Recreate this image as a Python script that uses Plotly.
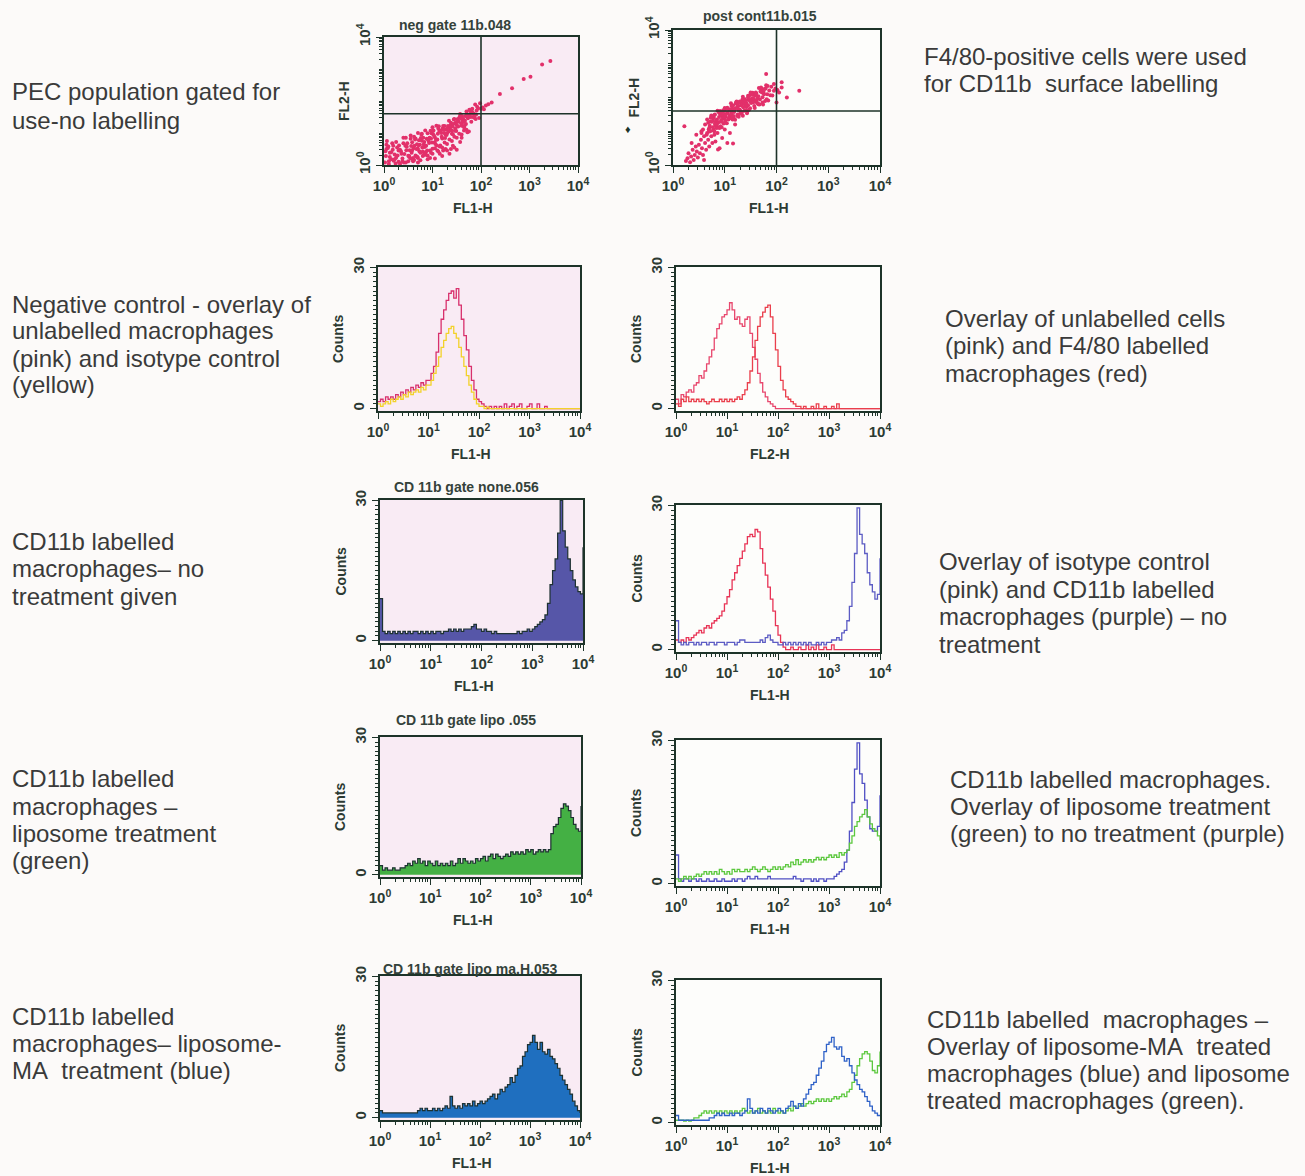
import plotly.graph_objects as go

W, H = 1305, 1176
AX = "#1d3329"
TXT = "#2c3a33"
SIDE = "#3a3a3a"
LABF = "Liberation Sans, Arial, Helvetica, sans-serif"
SANS = "Liberation Sans, Arial, Helvetica, sans-serif"
PAPER = "#fcfaf9"
LEFT_BG = "#f9ebf4"
RIGHT_BG = "#fdfdfb"

# ---------------------------------------------------------------- data
# histogram channels, in decades (10^0 .. 10^4)
CHANNELS = [
    0.00, 0.05, 0.10, 0.15, 0.20, 0.25, 0.30, 0.35, 0.40, 0.45,
    0.50, 0.55, 0.60, 0.65, 0.70, 0.75, 0.80, 0.85, 0.90, 0.95,
    1.00, 1.05, 1.10, 1.15, 1.20, 1.25, 1.30, 1.35, 1.40, 1.45,
    1.50, 1.55, 1.60, 1.65, 1.70, 1.75, 1.80, 1.85, 1.90, 1.95,
    2.00, 2.05, 2.10, 2.15, 2.20, 2.25, 2.30, 2.35, 2.40, 2.45,
    2.50, 2.55, 2.60, 2.65, 2.70, 2.75, 2.80, 2.85, 2.90, 2.95,
    3.00, 3.05, 3.10, 3.15, 3.20, 3.25, 3.30, 3.35, 3.40, 3.45,
    3.50, 3.55, 3.60, 3.65, 3.70, 3.75, 3.80, 3.85, 3.90, 3.95,
    4.00,
]

# row 2 left: unlabelled macrophages (pink) and isotype control (yellow)
NEG_UNLAB = [
    1.5, 2, 1.5, 2.5, 2, 2.5, 2, 3, 2.5, 3.5,
    3, 4, 3.5, 4.5, 4, 5, 4.5, 5.5, 5, 6,
    6, 7.5, 9, 12, 16, 19, 21, 23, 24.5, 25,
    23.5, 25.5, 22, 19, 15.5, 12.5, 9, 6, 4, 2,
    1.5, 1, 0.5, 0, 0.5, 0, 0.5, 0, 0.5, 0,
    1, 0, 0.5, 1, 0, 0.5, 1, 0, 0, 0.5,
    1, 0, 0, 1, 0, 0, 0.5, 0, 0, 0,
    0, 0, 0, 0, 0, 0, 0, 0, 0, 0,
    0,
]
NEG_ISO = [
    1, 0.5, 1, 1.5, 1, 2, 1.5, 2, 2.5, 2,
    3, 2.5, 3.5, 3, 3.5, 4, 3.5, 4.5, 4, 5,
    5, 6, 7.5, 9, 11, 13, 14.5, 16, 17, 17.5,
    16, 15, 13, 11, 9, 7, 5, 3.5, 2, 1,
    0.5, 0.5, 0, 0.3, 0, 0, 0, 0, 0, 0,
    0, 0, 0, 0, 0, 0, 0, 0, 0, 0,
    0, 0, 0, 0, 0, 0, 0, 0, 0, 0,
    0, 0, 0, 0, 0, 0, 0, 0, 0, 0,
    0,
]
# row 2 right: unlabelled cells (pink) and F4/80 labelled macrophages (red)
F480_UNLAB = [
    2, 1, 3, 2.5, 3.5, 4, 3.5, 5, 5.5, 7,
    6.5, 8, 9.5, 11, 12.5, 15, 17, 18, 19.5, 20,
    21, 22.5, 21, 19, 19.5, 18, 17.5, 19, 19.5, 16,
    13, 10.5, 7.5, 5.5, 3.5, 2.5, 1.5, 1, 0.5, 0,
    0, 0, 0, 0, 0, 0, 0, 0, 0, 0,
    0, 0, 0, 0, 0, 0, 0, 0, 0, 0,
    0, 0, 0, 0, 0, 0, 0, 0, 0, 0,
    0, 0, 0, 0, 0, 0, 0, 0, 0, 0,
    0,
]
F480_LAB = [
    1, 0.5, 2, 1.5, 2.5, 1.5, 2, 1.5, 2, 1.5,
    2, 1.5, 1, 1.5, 2, 1.5, 1.5, 2, 1.5, 2,
    1.5, 2, 1.5, 2, 2.5, 2, 3, 4, 5.5, 8,
    11, 14.5, 17.5, 19.5, 20.5, 21.5, 22, 19.5, 16, 12.5,
    9, 6, 4, 2.5, 2, 1.5, 1, 0.5, 0.5, 0,
    0.5, 0, 0, 0.5, 0, 1, 0, 0, 0.5, 0,
    0, 0.5, 0, 1, 0, 0, 0, 0, 0, 0,
    0, 0, 0, 0, 0, 0, 0, 0, 0, 0,
    0,
]
# row 3: CD11b labelled, no treatment (purple); isotype control (pink)
CD11B_NONE = [
    9, 2, 1.5, 2, 1.5, 2, 1.5, 2, 1.5, 2,
    1.5, 2, 1.5, 2, 2, 1.5, 2, 1.5, 2, 1.5,
    2, 1.5, 2, 2, 1.5, 2, 2, 2.5, 2, 2.5,
    2, 2.5, 2, 2.5, 2.5, 2.5, 3, 3.5, 2.5, 2.5,
    2, 2.5, 2, 2, 1.5, 2, 1.5, 1.5, 1.5, 1.5,
    1.5, 1.5, 1.5, 1.5, 2, 1.5, 2, 2, 2.5, 2,
    2.5, 3, 3.5, 4, 4.5, 5.5, 8, 12, 15, 17.5,
    23, 30, 23.5, 20, 17.5, 15, 13, 11.5, 10.5, 10,
    20,
]
ISO_CTRL = [
    2, 1.5, 2, 1.5, 2.5, 2, 2.5, 3, 3.5, 4,
    3.5, 4.5, 5, 4.5, 5.5, 6, 6.5, 7, 8, 9.5,
    11, 12.5, 14.5, 16, 17.5, 19, 20.5, 22, 23.5, 24,
    23.5, 25, 24.5, 21, 18, 15.5, 13, 10.5, 8, 5,
    3, 1.5, 0.5, 0, 0, 0.5, 0, 0, 0.5, 0,
    0, 1, 0, 0.5, 0, 1, 0, 0, 0.5, 0,
    0, 1, 0, 0, 0, 0, 0, 0, 0, 0,
    0, 0, 0, 0, 0, 0, 0, 0, 0, 0,
    0,
]
CD11B_NONE_OVL = [
    6, 1.5, 1, 1.5, 1, 1.5, 1.5, 1, 1.5, 1,
    1.5, 1.5, 1, 1.5, 1.5, 1, 1.5, 1.5, 1.5, 1,
    1.5, 1.5, 1.5, 1, 1.5, 2, 2, 1.5, 1.5, 1.5,
    1.5, 1.5, 1.5, 2, 1.5, 2.5, 3, 2, 1.5, 1.5,
    1, 1, 1.5, 1, 1.5, 1, 1.5, 1, 1.5, 1,
    1.5, 1, 1.5, 1, 1, 1.5, 1, 1.5, 1, 1.5,
    1.5, 2, 2, 2.5, 2, 3.5, 4, 6, 9, 14,
    20, 29.5, 24, 22, 20, 16, 13.5, 12, 10.5, 11.5,
    19,
]
# row 4: liposome treatment (green) vs no treatment (purple)
CD11B_LIPO = [
    2, 1, 1.5, 1, 1, 1.5, 1, 1, 1.5, 1.5,
    2, 2.5, 2, 3, 2.5, 3.5, 2.5, 3, 2, 3,
    2.5, 2, 3, 2, 2.5, 2, 2.5, 2, 3, 2,
    2.5, 3.5, 2.5, 3.5, 3, 2.5, 3, 2.5, 3.5, 3,
    3.5, 4, 3, 4, 4.5, 3.5, 4.5, 4, 3.5, 4,
    4.5, 4, 5, 4.5, 5, 4.5, 5, 4.5, 5.5, 5,
    5.5, 4.5, 5, 5.5, 5, 5.5, 5, 5.5, 9, 10.5,
    11, 12.5, 14.5, 15.5, 15, 14, 12.5, 11, 10, 9.5,
    15,
]
CD11B_NONE_OVL2 = [
    6, 1, 0.5, 1, 1, 0.5, 1, 1, 0.5, 1,
    0.5, 0.5, 1, 0.5, 0.5, 1, 0.5, 0.5, 1, 0.5,
    0.5, 0.5, 1, 0.5, 1, 1, 0.5, 1, 1.5, 1,
    1, 1.5, 1, 1, 1, 1, 1.5, 1, 1, 1,
    1, 1, 1, 1, 1, 1, 1.5, 1, 1, 0.5,
    1, 1, 1, 0.5, 1, 0.5, 1, 1, 0.5, 1,
    1, 1, 1.5, 2, 2.5, 3, 4.5, 7, 11, 17,
    24, 29.5, 23, 21, 17.5, 14, 11.5, 11, 11, 12,
    18.5,
]
CD11B_LIPO_OVL = [
    1, 0.5, 1, 1.5, 1, 1.5, 1, 1.5, 2, 1.5,
    2, 2.5, 2, 2.5, 2, 2.5, 2, 3, 2.5, 2,
    2.5, 2, 3, 2.5, 3, 2.5, 2.5, 3, 2.5, 3,
    3.5, 3, 2.5, 3, 3.5, 3, 2.5, 3, 3.5, 3,
    3.5, 3, 3.5, 4, 3.5, 4.5, 4, 5, 4, 4.5,
    5, 4.5, 5, 4.5, 5, 5.5, 5, 5.5, 5, 5.5,
    6, 5.5, 6, 5.5, 6.5, 6, 6.5, 7, 8.5, 10,
    12, 13, 14, 14.5, 15.5, 14, 12.5, 11.5, 11, 10,
    9,
]
# row 5: liposome-MA treatment (blue) vs liposome (green)
CD11B_LIPOMA = [
    1.5, 1, 1, 1, 1, 1, 1, 1, 1, 1,
    1, 1, 1, 1, 1, 1.5, 2, 1.5, 2, 1.5,
    1.5, 2, 1.5, 2, 1.5, 2, 2.5, 2, 4.5, 2.5,
    2, 2.5, 2, 3, 2.5, 3, 2.5, 3.5, 2.5, 3,
    3.5, 3, 3.5, 4, 4.5, 5, 4, 5, 6, 5.5,
    6.5, 7, 8.5, 7.5, 9, 10.5, 11, 13, 14, 15.5,
    16, 17.5, 16, 14.5, 16, 14, 13.5, 14.5, 13, 12.5,
    11.5, 10.5, 9, 8, 7, 6, 5, 3.5, 2.5, 1.5,
    1,
]
CD11B_LIPOMA_OVL = [
    1.5, 0.5, 0.5, 0.5, 0.5, 0.5, 0.5, 0.5, 0.5, 0.5,
    0.5, 0.5, 0.5, 1, 1, 1.5, 2, 1.5, 2, 1.5,
    1.5, 2, 1.5, 2, 2, 1.5, 2, 2.5, 5, 3,
    2, 2.5, 2, 3, 2.5, 2, 3, 2.5, 2, 2.5,
    3, 2.5, 2, 3, 3.5, 4.5, 3.5, 3, 4, 3.5,
    5, 6, 7, 8, 8.5, 10, 11.5, 13, 15, 16.5,
    17, 18, 16, 15.5, 16, 14, 13, 13.5, 12, 10.5,
    9, 8, 7, 6.5, 5.5, 4.5, 3.5, 2.5, 2, 1.5,
    1.5,
]
CD11B_LIPO_OVL2 = [
    0.5, 0.5, 0.5, 0.3, 0.5, 0.3, 0.5, 1, 1, 1.5,
    2, 2.5, 2, 2.5, 2, 2.5, 2, 2.5, 2, 2.5,
    2, 2.5, 2, 2.5, 2, 2.5, 3, 2.5, 2, 2.5,
    2, 2.5, 3, 2, 2.5, 2, 2.5, 2, 3, 2.5,
    2, 2.5, 2, 2.5, 3, 2.5, 3.5, 3, 3.5, 4,
    3.5, 4, 4.5, 4, 4.5, 5, 4.5, 5, 4.5, 5,
    4.5, 5, 5.5, 5, 5.5, 6, 5.5, 6.5, 7, 8.5,
    10, 12, 13.5, 14.5, 15, 14.5, 13, 11, 10.5, 12,
    15,
]

# row 1 dot plots: FL1-H (x) / FL2-H (y), in decades
NEG_X = [
    0.02, 0.03, 0.05, 0.04, 0.08, 0.10, 0.12, 0.09, 0.15, 0.18, 0.20, 0.17, 0.22, 0.25, 0.27, 0.24, 0.30, 0.33, 0.31, 0.36,
    0.38, 0.35, 0.40, 0.42, 0.44, 0.41, 0.46, 0.48, 0.50, 0.47, 0.52, 0.55, 0.53, 0.57, 0.58, 0.60, 0.56, 0.62, 0.64, 0.61,
    0.66, 0.68, 0.65, 0.70, 0.72, 0.69, 0.74, 0.76, 0.73, 0.78, 0.80, 0.77, 0.82, 0.84, 0.81, 0.86, 0.88, 0.85, 0.90, 0.92,
    0.89, 0.94, 0.96, 0.93, 0.98, 1.00, 0.97, 1.02, 1.04, 1.01, 1.06, 1.08, 1.05, 1.10, 1.12, 1.09, 1.14, 1.16, 1.13, 1.18,
    1.20, 1.17, 1.22, 1.24, 1.21, 1.26, 1.28, 1.25, 1.30, 1.32, 1.29, 1.34, 1.36, 1.33, 1.38, 1.40, 1.37, 1.42, 1.44, 1.41,
    1.46, 1.48, 1.45, 1.50, 1.52, 1.49, 1.54, 1.56, 1.53, 1.58, 1.60, 1.57, 1.62, 1.64, 1.61, 1.66, 1.68, 1.65, 1.70, 1.72,
    1.69, 1.74, 1.76, 1.73, 1.78, 1.80, 1.77, 1.82, 1.84, 1.81, 1.86, 1.88, 1.85, 1.90, 1.92, 1.89, 1.94, 1.96, 1.98, 2.00,
    2.03, 2.06, 2.10, 2.15, 2.22, 2.39, 2.64, 2.88, 3.02, 3.26, 3.43, 1.38, 1.60, 0.95, 1.22, 0.70, 1.75, 0.45, 0.25, 0.06,
    0.50, 0.55, 0.60, 0.65, 0.70, 0.75, 0.80, 0.85, 0.90, 0.95, 1.00, 1.05, 1.10, 1.15, 1.20, 1.25, 1.30, 1.35, 1.40, 1.45,
    1.50, 1.55, 1.60, 1.65, 1.70, 0.58, 0.63, 0.67, 0.71, 0.79, 0.83, 0.87, 0.91, 0.99, 1.03, 1.07, 1.11, 1.19, 1.23, 1.27,
    1.31, 1.39, 1.43, 1.47, 1.51, 1.59, 1.63, 1.67, 1.71, 1.79, 1.83, 1.87, 1.91, 0.15, 0.28, 0.05, 0.19, 0.33, 0.12, 0.30,
    0.45, 0.60, 0.75, 0.90, 1.05, 1.20, 1.35, 1.50, 0.38, 0.52, 0.68, 0.82, 0.97, 1.12, 1.27, 1.42, 1.57, 1.72, 0.22, 0.10,
    0.40, 0.55, 0.70, 0.85, 1.00, 0.62, 0.78, 1.15, 1.30, 1.45,
]
NEG_Y = [
    0.08, 0.43, 0.63, 0.28, 0.53, 0.03, 0.38, 0.58, 0.18, 0.48, 0.13, 0.68, 0.33, 0.23, 0.55, 0.05, 0.45, 0.04, 0.61, 0.35,
    0.12, 0.43, 0.68, 0.34, 0.60, 0.08, 0.46, 0.68, 0.29, 0.57, 0.25, 0.82, 0.46, 0.38, 0.71, 0.22, 0.59, 0.16, 0.80, 0.52,
    0.28, 0.65, 0.83, 0.51, 0.77, 0.25, 0.63, 0.84, 0.43, 0.76, 0.42, 0.95, 0.64, 0.56, 0.85, 0.40, 0.82, 0.32, 0.99, 0.75,
    0.45, 0.85, 1.07, 0.69, 0.99, 0.51, 0.83, 1.08, 0.70, 0.97, 0.66, 1.23, 0.86, 0.80, 1.14, 0.61, 1.06, 0.61, 1.21, 1.00,
    0.83, 1.07, 1.22, 1.00, 1.14, 0.84, 1.11, 1.22, 0.99, 1.22, 0.94, 1.38, 1.15, 1.05, 1.32, 0.98, 1.24, 0.96, 1.42, 1.20,
    1.07, 1.33, 1.44, 1.25, 1.44, 1.06, 1.36, 1.51, 1.20, 1.46, 1.23, 1.59, 1.39, 1.34, 1.53, 1.23, 1.53, 1.18, 1.67, 1.49,
    1.28, 1.57, 1.73, 1.46, 1.68, 1.35, 1.57, 1.76, 1.50, 1.68, 1.48, 1.89, 1.61, 1.58, 1.82, 1.44, 1.77, 1.47, 1.93, 1.76,
    1.80, 1.74, 1.86, 1.90, 1.95, 2.22, 2.40, 2.69, 2.76, 3.14, 3.25, 0.50, 0.85, 0.22, 0.45, 0.08, 1.05, 0.85, 0.72, 0.75,
    0.12, 0.20, 0.15, 0.30, 0.22, 0.38, 0.28, 0.35, 0.30, 0.45, 0.35, 0.52, 0.45, 0.58, 0.55, 0.70, 0.66, 0.80, 0.75, 0.88,
    0.85, 0.98, 0.95, 1.08, 1.10, 0.45, 0.60, 0.50, 0.62, 0.55, 0.72, 0.60, 0.80, 0.70, 0.92, 0.78, 0.98, 0.88, 1.10, 0.95,
    1.15, 1.08, 1.28, 1.15, 1.35, 1.30, 1.45, 1.38, 1.55, 1.50, 1.62, 1.55, 1.70, 0.40, 0.30, 0.50, 0.60, 0.48, 0.25, 0.10,
    0.08, 0.12, 0.15, 0.18, 0.20, 0.28, 0.35, 0.48, 0.20, 0.28, 0.25, 0.32, 0.38, 0.42, 0.50, 0.60, 0.72, 1.02, 0.18, 0.12,
    0.85, 0.92, 1.00, 1.08, 1.18, 0.88, 0.98, 0.35, 0.45, 0.55,
]
POS_X = [
    0.70, 0.72, 0.74, 0.71, 0.76, 0.78, 0.75, 0.80, 0.82, 0.79, 0.84, 0.86, 0.83, 0.88, 0.90, 0.87, 0.92, 0.94, 0.91, 0.96,
    0.98, 0.95, 1.00, 1.02, 0.99, 1.04, 1.06, 1.03, 1.08, 1.10, 1.07, 1.12, 1.14, 1.11, 1.16, 1.18, 1.15, 1.20, 1.22, 1.19,
    1.24, 1.26, 1.23, 1.28, 1.30, 1.27, 1.32, 1.34, 1.31, 1.36, 1.38, 1.35, 1.40, 1.42, 1.39, 1.44, 1.46, 1.43, 1.48, 1.50,
    1.47, 1.52, 1.54, 1.51, 1.56, 1.58, 1.55, 1.60, 1.62, 1.59, 1.64, 1.66, 1.63, 1.68, 1.70, 1.67, 1.72, 1.74, 1.71, 1.76,
    1.78, 1.75, 1.80, 1.82, 1.79, 1.84, 1.86, 1.83, 1.88, 1.90, 1.92, 1.95, 1.98, 2.02, 1.05, 1.15, 1.25, 1.35, 1.45, 1.00,
    0.85, 0.93, 1.01, 1.09, 1.17, 1.27, 1.33, 1.41, 1.49, 1.57, 0.89, 0.97, 1.05, 1.13, 1.21, 1.29, 1.37, 1.45, 1.53, 1.61,
    0.81, 0.99, 1.18, 1.24, 1.42, 1.55, 1.65, 1.73, 0.77, 1.36,
    0.25, 0.28, 0.30, 0.33, 0.35, 0.38, 0.40, 0.42, 0.44, 0.46, 0.48, 0.50, 0.52, 0.54, 0.56, 0.58, 0.60, 0.62, 0.64, 0.66,
    0.68, 0.70, 0.72, 0.74, 0.76, 0.78, 0.80, 0.82, 0.84, 0.86, 0.90, 0.95, 1.00, 1.05, 1.10, 1.16, 0.92, 0.87, 0.60, 0.45,
    0.22, 0.36, 0.55, 0.70, 1.20, 1.80, 2.44, 2.10, 2.20, 2.00,
    0.66, 0.69, 0.73, 0.77, 0.81, 0.85, 0.89, 0.93, 0.97, 1.01, 1.05, 1.09, 1.13, 1.17, 1.21, 1.25, 1.29, 1.33, 1.37, 1.41,
    1.45, 1.49, 1.53, 1.57, 1.61, 1.65, 1.69, 1.73, 1.77, 1.81, 0.62, 0.58, 0.55, 0.65, 0.68, 1.95, 2.05, 2.10, 1.70, 1.50,
    0.95, 1.10, 1.25, 1.40, 1.55, 1.30, 1.15, 1.00, 0.90, 0.80,
]
POS_Y = [
    0.99, 1.29, 1.47, 1.16, 1.41, 1.02, 1.28, 1.48, 1.18, 1.39, 1.15, 1.61, 1.30, 1.27, 1.54, 1.11, 1.48, 1.12, 1.60, 1.43,
    1.23, 1.49, 1.69, 1.42, 1.60, 1.24, 1.54, 1.67, 1.39, 1.65, 1.35, 1.83, 1.56, 1.46, 1.76, 1.37, 1.67, 1.34, 1.86, 1.62,
    1.45, 1.75, 1.88, 1.64, 1.86, 1.43, 1.76, 1.93, 1.59, 1.87, 1.61, 2.02, 1.78, 1.72, 1.95, 1.59, 1.93, 1.53, 2.07, 1.88,
    1.64, 1.96, 2.14, 1.84, 2.08, 1.69, 1.95, 2.15, 1.85, 2.06, 1.82, 2.28, 1.98, 1.94, 2.21, 1.79, 2.15, 1.79, 2.27, 2.10,
    1.90, 2.16, 2.36, 2.10, 2.27, 1.91, 2.21, 2.34, 2.07, 2.32, 2.06, 2.40, 2.27, 2.22, 1.67, 1.35, 1.75, 1.46, 2.05, 1.46,
    1.35, 1.33, 1.50, 1.47, 1.63, 1.62, 1.78, 1.74, 1.90, 1.88, 1.42, 1.38, 1.55, 1.51, 1.68, 1.64, 1.82, 1.77, 1.95, 1.91,
    1.22, 1.40, 1.57, 1.70, 1.84, 1.86, 2.04, 2.01, 1.31, 1.71,
    0.12, 0.20, 0.35, 0.08, 0.25, 0.45, 0.15, 0.30, 0.55, 0.40, 0.22, 0.60, 0.35, 0.75, 0.50, 0.30, 0.85, 0.65, 0.45, 0.95,
    0.75, 0.55, 1.00, 0.85, 0.65, 1.05, 0.90, 0.70, 1.10, 0.95, 0.50, 0.80, 1.05, 0.65, 0.95, 0.64, 1.15, 0.46, 0.15, 0.90,
    1.15, 0.65, 1.00, 1.10, 1.20, 2.70, 2.20, 2.45, 2.00, 1.85,
    1.35, 1.05, 1.40, 1.12, 1.50, 1.20, 1.55, 1.28, 1.62, 1.32, 1.70, 1.38, 1.75, 1.45, 1.82, 1.50, 1.88, 1.55, 1.95, 1.62,
    2.00, 1.68, 2.08, 1.75, 2.12, 1.80, 2.18, 1.85, 2.25, 1.95, 1.20, 1.05, 0.95, 0.90, 1.25, 2.20, 2.15, 2.30, 2.30, 2.15,
    1.55, 1.62, 1.80, 1.90, 1.98, 1.52, 1.40, 1.25, 1.10, 1.00,
]
QUAD_X = 100   # FL1-H quadrant marker
QUAD_Y = 40    # FL2-H quadrant marker

LOG_TICKS = [1, 10, 100, 1000, 10000]
LOG_TEXT = ["10<sup>0</sup>", "10<sup>1</sup>", "10<sup>2</sup>", "10<sup>3</sup>", "10<sup>4</sup>"]
LOG_TICKS_Y = [1, 10000]
LOG_TEXT_Y = ["10<sup>0</sup>", "10<sup>4</sup>"]
COUNT_TICKS = [0, 30]
COUNT_TEXT = ["0", "30"]

LEFT_TEXT = [
    (10, 92, "PEC population gated for"), (10, 120, "use-no labelling"),
    (10, 304, "Negative control - overlay of"), (10, 331, "unlabelled macrophages"),
    (10, 358, "(pink) and isotype control"), (10, 385, "(yellow)"),
    (10, 541, "CD11b labelled"), (10, 568, "macrophages\u2013 no"), (10, 596, "treatment given"),
    (10, 778, "CD11b labelled"), (10, 806, "macrophages \u2013"), (10, 833, "liposome treatment"),
    (10, 860, "(green)"),
    (10, 1016, "CD11b labelled"), (10, 1043, "macrophages\u2013 liposome-"), (10, 1070, "MA\u00a0 treatment (blue)"),
]
RIGHT_TEXT = [
    (922, 57, "F4/80-positive cells were used"), (922, 84, "for CD11b\u00a0 surface labelling"),
    (943, 318, "Overlay of unlabelled cells"), (943, 345, "(pink) and F4/80 labelled"),
    (943, 373, "macrophages (red)"),
    (937, 562, "Overlay of isotype control"), (937, 589, "(pink) and CD11b labelled"),
    (937, 616, "macrophages (purple) \u2013 no"), (937, 644, "treatment"),
    (948, 779, "CD11b labelled macrophages."), (948, 806, "Overlay of liposome treatment"),
    (948, 833, "(green) to no treatment (purple)"),
    (925, 1019, "CD11b labelled\u00a0 macrophages \u2013"), (925, 1046, "Overlay of liposome-MA\u00a0 treated"),
    (925, 1073, "macrophages (blue) and liposome"), (925, 1100, "treated macrophages (green)."),
]

# ---------------------------------------------------------------- panels
def hist(vals, color, fill=None):
    return dict(y=vals, color=color, fill=fill)


PANELS = [
    dict(frame=(384, 578, 37, 165), dot=(NEG_X, NEG_Y), bg=LEFT_BG, title="neg gate 11b.048",
         tpos=(455, 25), xlab="FL1-H", ylab="FL2-H"),
    dict(frame=(673, 880, 30, 165), dot=(POS_X, POS_Y), bg=RIGHT_BG, title="post cont11b.015",
         tpos=(760, 16), xlab="FL1-H", ylab="FL2-H"),
    dict(frame=(378, 580, 267, 411), bg=LEFT_BG, title=None, xlab="FL1-H", ylab="Counts",
         traces=[hist(NEG_UNLAB, "#d8306c"), hist(NEG_ISO, "#f2d22a")]),
    dict(frame=(676, 880, 267, 411), bg=RIGHT_BG, title=None, xlab="FL2-H", ylab="Counts",
         traces=[hist(F480_UNLAB, "#e8486e"), hist(F480_LAB, "#ea3f4c")]),
    dict(frame=(380, 583, 500, 643), bg=LEFT_BG, title="CD 11b gate none.056", tpos=(466, 487),
         xlab="FL1-H", ylab="Counts", traces=[hist(CD11B_NONE, "#1e3232", "#5656a8")]),
    dict(frame=(676, 880, 505, 652), bg=RIGHT_BG, title=None, xlab="FL1-H", ylab="Counts",
         traces=[hist(ISO_CTRL, "#e83456"), hist(CD11B_NONE_OVL, "#5c5cc4")]),
    dict(frame=(380, 581, 737, 877), bg=LEFT_BG, title="CD 11b gate lipo .055", tpos=(466, 720),
         xlab="FL1-H", ylab="Counts", traces=[hist(CD11B_LIPO, "#1e3232", "#44b044")]),
    dict(frame=(676, 880, 740, 886), bg=RIGHT_BG, title=None, xlab="FL1-H", ylab="Counts",
         traces=[hist(CD11B_NONE_OVL2, "#5050c4"), hist(CD11B_LIPO_OVL, "#5cc83e")]),
    dict(frame=(380, 580, 976, 1120), bg=LEFT_BG, title="CD 11b gate lipo ma.H.053", tpos=(470, 969),
         xlab="FL1-H", ylab="Counts", traces=[hist(CD11B_LIPOMA, "#1e3232", "#1f6fbf")]),
    dict(frame=(676, 880, 980, 1125), bg=RIGHT_BG, title=None, xlab="FL1-H", ylab="Counts",
         traces=[hist(CD11B_LIPO_OVL2, "#5cc83e"), hist(CD11B_LIPOMA_OVL, "#2f62c8")]),
]

tickfont = dict(family=LABF, size=15, color=TXT, weight="bold")
labfont = dict(family=LABF, size=14, color=TXT, weight="bold")

fig = go.Figure()
layout_axes = {}
shapes = []
annotations = []
CH_X = [10 ** c for c in CHANNELS]
MINOR_LOG = [m * 10 ** k for k in range(4) for m in range(2, 10)]
MINOR_LOG_Y = MINOR_LOG + [10, 100, 1000]
MINOR_COUNT = list(range(1, 30))

for i, p in enumerate(PANELS, start=1):
    sfx = "" if i == 1 else str(i)
    xr, yr = "x" + sfx, "y" + sfx
    x0, x1, y0, y1 = p["frame"]
    common = dict(showline=True, mirror=True, linecolor=AX, linewidth=1.6, showgrid=False,
                  zeroline=False, ticks="outside", tickcolor=AX, tickwidth=1.2, ticklen=6,
                  tickfont=tickfont, fixedrange=True, automargin=False)
    layout_axes["xaxis" + sfx] = dict(
        common, domain=[x0 / W, x1 / W], anchor=yr, type="log", range=[0, 4],
        tickmode="array", tickvals=LOG_TICKS, ticktext=LOG_TEXT,
        minor=dict(tickmode="array", tickvals=MINOR_LOG, ticks="outside", ticklen=3,
                   tickcolor=AX, tickwidth=1),
    )
    if "dot" in p:
        layout_axes["yaxis" + sfx] = dict(
            common, domain=[1 - y1 / H, 1 - y0 / H], anchor=xr, type="log", range=[0, 4],
            tickmode="array", tickvals=LOG_TICKS_Y, ticktext=LOG_TEXT_Y, tickangle=-90,
            minor=dict(tickmode="array", tickvals=MINOR_LOG_Y, ticks="outside", ticklen=3,
                       tickcolor=AX, tickwidth=1),
        )
        dx, dy = p["dot"]
        fig.add_trace(go.Scatter(
            x=[10 ** v for v in dx], y=[10 ** v for v in dy], mode="markers",
            marker=dict(size=4, color="#e2306a", line=dict(width=0)),
            xaxis=xr, yaxis=yr, showlegend=False, hoverinfo="skip"))
        fig.add_trace(go.Scatter(x=[QUAD_X, QUAD_X], y=[1, 10000], mode="lines",
                                 line=dict(color=AX, width=1.6), xaxis=xr, yaxis=yr,
                                 showlegend=False, hoverinfo="skip"))
        fig.add_trace(go.Scatter(x=[1, 10000], y=[QUAD_Y, QUAD_Y], mode="lines",
                                 line=dict(color=AX, width=1.6), xaxis=xr, yaxis=yr,
                                 showlegend=False, hoverinfo="skip"))
    else:
        layout_axes["yaxis" + sfx] = dict(
            common, domain=[1 - y1 / H, 1 - y0 / H], anchor=xr, range=[-0.5, 30.1],
            tickmode="array", tickvals=COUNT_TICKS, ticktext=COUNT_TEXT, tickangle=-90,
            minor=dict(tickmode="array", tickvals=MINOR_COUNT, ticks="outside", ticklen=3,
                       tickcolor=AX, tickwidth=1),
        )
        for t in p["traces"]:
            kw = dict(x=CH_X, y=t["y"], mode="lines", line=dict(color=t["color"], width=1.3, shape="hv"),
                      xaxis=xr, yaxis=yr, showlegend=False, hoverinfo="skip")
            if t["fill"]:
                kw["fill"] = "tozeroy"
                kw["fillcolor"] = t["fill"]
                kw["line"] = dict(color=t["color"], width=1.2, shape="hv")
            fig.add_trace(go.Scatter(**kw))

    shapes.append(dict(type="rect", xref=xr + " domain", yref=yr + " domain", x0=0, x1=1, y0=0, y1=1,
                       fillcolor=p["bg"], line=dict(width=0), layer="below"))
    # axis titles
    annotations.append(dict(x=((x0 + x1) / 2 - 8) / W, y=1 - (y1 + 43) / H, xref="paper", yref="paper",
                            text=p["xlab"], showarrow=False, font=labfont, xanchor="center", yanchor="middle"))
    annotations.append(dict(x=(x0 - 40) / W, y=1 - ((y0 + y1) / 2) / H, xref="paper", yref="paper",
                            text=p["ylab"], showarrow=False, font=labfont, textangle=-90,
                            xanchor="center", yanchor="middle"))
    if p.get("title"):
        tx, ty = p["tpos"]
        annotations.append(dict(x=tx / W, y=1 - ty / H, xref="paper", yref="paper", text=p["title"],
                                showarrow=False, font=dict(family=LABF, size=14, color="#34423b", weight="bold"),
                                xanchor="center", yanchor="middle"))

# small marker glyph on the second dot plot's y axis
annotations.append(dict(x=628 / W, y=1 - 128 / H, xref="paper", yref="paper", text="\u2666",
                        showarrow=False, font=dict(size=11, color=AX), xanchor="center", yanchor="middle"))

for (tx, ty, s) in LEFT_TEXT + RIGHT_TEXT:
    annotations.append(dict(x=tx / W, y=1 - ty / H, xref="paper", yref="paper", text=s, showarrow=False,
                            font=dict(family=SANS, size=24, color=SIDE), xanchor="left", yanchor="middle"))

fig.update_layout(
    width=W, height=H, autosize=False,
    margin=dict(l=0, r=0, t=0, b=0, pad=0, autoexpand=False),
    paper_bgcolor=PAPER, plot_bgcolor=RIGHT_BG,
    showlegend=False, shapes=shapes, annotations=annotations,
    **layout_axes,
)
fig.write_html("out.html", config={"displayModeBar": False, "responsive": False},
               post_script="document.body.style.margin='0';document.body.style.overflow='hidden';")
